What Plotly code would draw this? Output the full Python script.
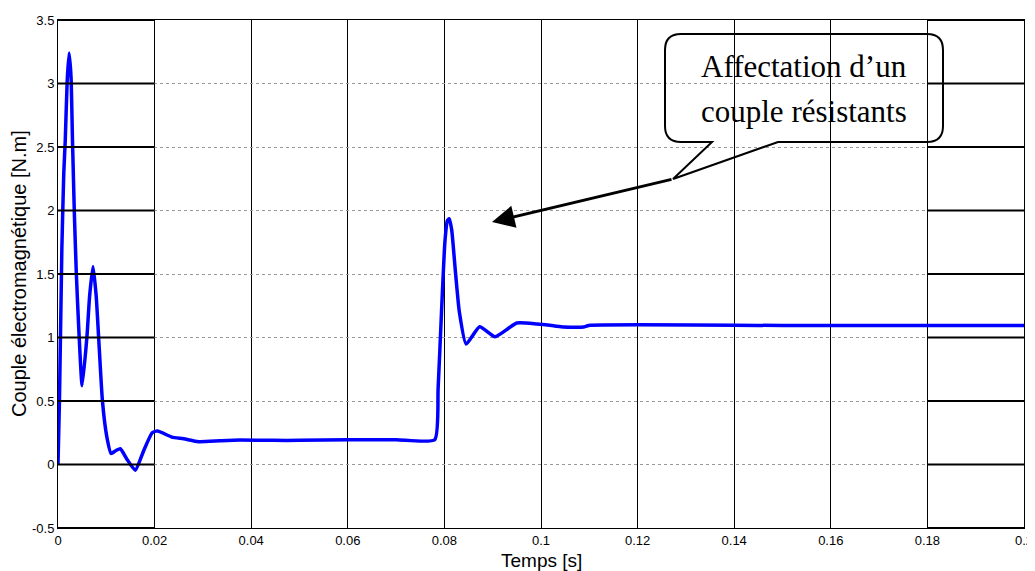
import plotly.graph_objects as go

# ---------------- data ----------------
time_s = [0, 0.0003, 0.0008, 0.0012, 0.0015, 0.0019, 0.0023, 0.0027, 0.0030, 0.0034,
          0.0038, 0.0043, 0.0050, 0.0060, 0.00655, 0.00725, 0.0079, 0.0084, 0.0092, 0.0101,
          0.0110, 0.0120, 0.0129, 0.0143, 0.0160, 0.0177, 0.0195, 0.0206, 0.0236, 0.0260,
          0.0291, 0.0336, 0.0377, 0.0446, 0.0500, 0.0600, 0.0700, 0.0780, 0.0787, 0.0794,
          0.0801, 0.0806, 0.0810, 0.0815, 0.0823, 0.0831, 0.0845, 0.0873, 0.0905, 0.0950,
          0.0992, 0.1026, 0.1047, 0.1088, 0.1099, 0.1500, 0.2000]
torque = [0, 0.5, 1.7, 2.3, 2.55, 3.02, 3.24, 3.05, 2.55, 1.96,
          1.5, 1.07, 0.62, 1.01, 1.33, 1.56, 1.33, 1.01, 0.5, 0.22,
          0.087, 0.11, 0.124, 0.04, -0.045, 0.105, 0.25, 0.263, 0.216, 0.203,
          0.18, 0.187, 0.192, 0.19, 0.19, 0.195, 0.195, 0.195, 0.6, 1.2,
          1.75, 1.92, 1.935, 1.85, 1.51, 1.20, 0.948, 1.085, 1.006, 1.114,
          1.106, 1.092, 1.082, 1.082, 1.095, 1.095, 1.095]

x_ticks = [0, 0.02, 0.04, 0.06, 0.08, 0.1, 0.12, 0.14, 0.16, 0.18, 0.2]
x_tick_text = ["0", "0.02", "0.04", "0.06", "0.08", "0.1", "0.12", "0.14", "0.16", "0.18", "0.2"]
y_ticks = [-0.5, 0, 0.5, 1, 1.5, 2, 2.5, 3, 3.5]
y_tick_text = ["-0.5", "0", "0.5", "1", "1.5", "2", "2.5", "3", "3.5"]

x_title = "Temps [s]"
y_title = "Couple électromagnétique [N.m]"
callout_lines = ["Affectation d’un", "couple résistants"]

# ---------------- layout constants ----------------
OFF = 8                      # page body margin
WIN_W, WIN_H = 1035, 571
PL, PR, PT, PB = 58, 1024, 20, 528   # plot area in window pixels
PW, PH = PR - PL, PB - PT
W, H = WIN_W - OFF, WIN_H - OFF
ML, MT = PL - OFF, PT - OFF
MR, MB = W - ML - PW, H - MT - PH
XR = [0, 0.2]
YR = [-0.5, 3.5]

def dx(px):
    return px * (XR[1] - XR[0]) / PW

def dy(px):
    return px * (YR[1] - YR[0]) / PH

def px2x(px):
    return XR[0] + dx(px - PL)

def py2y(py):
    return YR[1] - dy(py - PT)

fig = go.Figure()
fig.add_trace(go.Scatter(
    x=time_s, y=torque, mode="lines",
    line=dict(color="#0000FF", width=3.5, shape="spline", smoothing=0.5),
    hoverinfo="skip", showlegend=False))

shapes = []
# thick black grid segments in the first and last columns
first_col = (x_ticks[0], x_ticks[1])
last_col = (x_ticks[-2], x_ticks[-1])
for yv in y_ticks:
    for (a, b) in (first_col, last_col):
        shapes.append(dict(type="line", xref="x", yref="y", x0=a, x1=b, y0=yv, y1=yv,
                           line=dict(color="black", width=2), layer="above"))

# callout box
bx0, bx1 = px2x(665), px2x(943)
by1, by0 = py2y(34), py2y(142)
tl, tr = px2x(712), px2x(778)
tipx, tipy = px2x(673), py2y(179)
rx, ry = dx(16), dy(16)
path = (f"M {bx0+rx},{by1} L {bx1-rx},{by1} Q {bx1},{by1} {bx1},{by1-ry} "
        f"L {bx1},{by0+ry} Q {bx1},{by0} {bx1-rx},{by0} L {tr},{by0} L {tipx},{tipy} "
        f"L {tl},{by0} L {bx0+rx},{by0} Q {bx0},{by0} {bx0},{by0+ry} "
        f"L {bx0},{by1-ry} Q {bx0},{by1} {bx0+rx},{by1} Z")
shapes.append(dict(type="path", xref="x", yref="y", path=path,
                   line=dict(color="black", width=2), fillcolor="rgba(0,0,0,0)", layer="above"))

annotations = [
    dict(x=px2x(492), y=py2y(222), ax=tipx, ay=tipy, xref="x", yref="y", axref="x", ayref="y",
         showarrow=True, arrowhead=2, arrowsize=1.5, arrowwidth=3, arrowcolor="black", text=""),
    dict(x=(bx0 + bx1) / 2, y=py2y(66), xref="x", yref="y", text=callout_lines[0], showarrow=False,
         font=dict(family="Liberation Serif", size=31, color="black"), xanchor="center", yanchor="middle"),
    dict(x=(bx0 + bx1) / 2, y=py2y(111), xref="x", yref="y", text=callout_lines[1], showarrow=False,
         font=dict(family="Liberation Serif", size=31, color="black"), xanchor="center", yanchor="middle"),
    dict(x=0.5, y=-(561 - PB) / PH, xref="paper", yref="paper", text=x_title, showarrow=False,
         font=dict(family="Liberation Sans", size=19, color="black"), xanchor="center", yanchor="middle"),
    dict(x=(19 - PL) / PW, y=1 - (274 - PT) / PH, xref="paper", yref="paper", text=y_title,
         showarrow=False, textangle=-90,
         font=dict(family="Liberation Sans", size=20, color="black"), xanchor="center", yanchor="middle"),
]

fig.update_layout(
    width=W, height=H,
    margin=dict(l=ML, r=MR, t=MT, b=MB, pad=0),
    paper_bgcolor="white", plot_bgcolor="white",
    font=dict(family="Liberation Sans", size=13, color="black"),
    shapes=shapes, annotations=annotations,
    xaxis=dict(range=XR, tickvals=x_ticks, ticktext=x_tick_text, showgrid=True,
               gridcolor="black", gridwidth=1, zeroline=False, showline=True, linecolor="black",
               linewidth=1, mirror=True, ticks="", automargin=False,
               tickfont=dict(family="Liberation Sans", size=13, color="black")),
    yaxis=dict(range=YR, tickvals=y_ticks, ticktext=y_tick_text, showgrid=True,
               gridcolor="#9a9a9a", gridwidth=1, griddash="dot", zeroline=False, showline=True,
               linecolor="black", linewidth=1, mirror=True, ticks="", automargin=False,
               tickfont=dict(family="Liberation Sans", size=13, color="black")),
)

fig.write_html("out.html")
